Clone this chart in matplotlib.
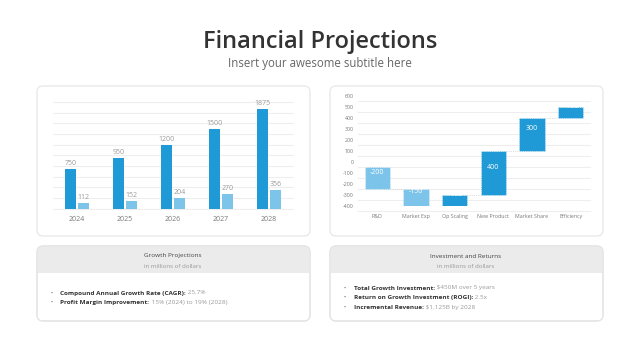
import matplotlib.pyplot as plt
from matplotlib.patches import FancyBboxPatch, Rectangle

plt.rcParams['font.family'] = ['Open Sans', 'DejaVu Sans']

# 左图：增长预测
years = ['2024', '2025', '2026', '2027', '2028']
revenue = [750, 950, 1200, 1500, 1875]
profit = [112, 152, 204, 270, 356]

# 右图：投资瀑布
steps = ['R&D', 'Market Exp', 'Op Scaling', 'New Product', 'Market Share', 'Efficiency']
changes = [-200, -150, 100, 400, 300, 100]
start = -50

dark = '#1f9ad6'
light = '#7dc4ea'
grid_c = '#eeeeee'
label_c = '#9a9a9a'

W, H = 640, 360
fig = plt.figure(figsize=(6.4, 3.6), dpi=100)
fig.patch.set_facecolor('white')

# 背景层（像素坐标）
bg = fig.add_axes([0, 0, 1, 1])
bg.set_xlim(0, W)
bg.set_ylim(H, 0)
bg.axis('off')
bg.set_zorder(-5)


def card(x0, y0, x1, y1, header=None):
    bg.add_patch(FancyBboxPatch((x0, y0), x1 - x0, y1 - y0,
                                boxstyle='round,pad=0,rounding_size=6',
                                fc='white', ec='#e4e4e4', lw=0.8))
    if header:
        bg.add_patch(FancyBboxPatch((x0, y0), x1 - x0, header - y0,
                                    boxstyle='round,pad=0,rounding_size=6',
                                    fc='#ebebeb', ec='none'))
        bg.add_patch(Rectangle((x0, y0 + 8), x1 - x0, header - y0 - 8,
                               fc='#ebebeb', ec='none'))
        bg.add_patch(FancyBboxPatch((x0, y0), x1 - x0, y1 - y0,
                                    boxstyle='round,pad=0,rounding_size=6',
                                    fc='none', ec='#e4e4e4', lw=0.8))


card(37, 86, 310, 236)
card(330, 86, 603, 236)
card(37, 246, 310, 321, header=273)
card(330, 246, 603, 321, header=273)

bg.text(320, 42, 'Financial Projections', ha='center', va='center',
        fontsize=17, color='#333333', fontweight='semibold')
bg.text(320, 63, 'Insert your awesome subtitle here', ha='center', va='center',
        fontsize=8.3, color='#666666')


def px_axes(x0, y0, x1, y1):
    return fig.add_axes([x0 / W, 1 - y1 / H, (x1 - x0) / W, (y1 - y0) / H])


# 左图
ax1 = px_axes(53, 102, 293, 208.7)
ax1.set_xlim(-0.5, 4.5)
ax1.set_ylim(0, 2000)
for g in range(0, 2001, 200):
    ax1.axhline(g, color=grid_c, lw=0.8, zorder=0, clip_on=False)
xs = list(range(len(years)))
w = 0.23
b1 = ax1.bar([x - 0.135 for x in xs], revenue, w, color=dark, zorder=2)
b2 = ax1.bar([x + 0.135 for x in xs], profit, w, color=light, zorder=2)
for bars, vals in ((b1, revenue), (b2, profit)):
    for r, v in zip(bars, vals):
        ax1.annotate(str(v), (r.get_x() + r.get_width() / 2, v), xytext=(0, 1.5),
                     textcoords='offset points', ha='center', va='bottom',
                     fontsize=5, color=label_c, annotation_clip=False)
ax1.set_xticks(xs)
ax1.set_xticklabels(years, fontsize=5, color='#777777')
ax1.set_yticks([])
ax1.tick_params(axis='x', length=0, pad=5.5)
for s in ax1.spines.values():
    s.set_visible(False)
ax1.patch.set_alpha(0)

# 右图
ax2 = px_axes(358, 95.7, 590, 205.7)
ax2.set_xlim(-0.5, 5.5)
ax2.set_ylim(-400, 600)
for g in range(-450, 551, 100):
    ax2.axhline(g, color=grid_c, lw=0.8, zorder=0, clip_on=False)
level = start
for i, c in enumerate(changes):
    top = level + c
    color = dark if c > 0 else light
    ax2.bar(i, c, 0.66, bottom=level, color=color, zorder=2,
            edgecolor='white', linestyle=':', linewidth=0.5)
    mid = level + c / 2
    txt = f'+{c}' if c == 100 else str(c)
    ax2.annotate(txt, (i, mid), xytext=(0, 4), textcoords='offset points',
                 ha='center', va='center', fontsize=5, color='white', zorder=3)
    if i < len(changes) - 1:
        ax2.plot([i + 0.33, i + 0.67], [top, top], color='#cccccc', lw=0.6,
                 ls=':', zorder=1)
    level = top
ax2.set_xticks(range(len(steps)))
ax2.set_xticklabels(steps, fontsize=3.8, color='#777777')
ax2.set_yticks(range(-400, 601, 100))
ax2.set_yticklabels([str(v) for v in range(-400, 601, 100)], fontsize=3.8, color='#777777')
ax2.tick_params(length=0)
ax2.tick_params(axis='y', pad=3)
ax2.tick_params(axis='x', pad=6)
for s in ax2.spines.values():
    s.set_visible(False)
ax2.patch.set_alpha(0)

# 底部卡片
panels = [
    (173, 'Growth Projections', [
        ('Compound Annual Growth Rate (CAGR):', ' 25.7%'),
        ('Profit Margin Improvement:', ' 15% (2024) to 19% (2028)'),
    ], 293),
    (466, 'Investment and Returns', [
        ('Total Growth Investment:', ' $450M over 5 years'),
        ('Return on Growth Investment (ROGI):', ' 2.5x'),
        ('Incremental Revenue:', ' $1.125B by 2028'),
    ], 288),
]
fig.canvas.draw()
renderer = fig.canvas.get_renderer()
for cx, head, items, y0 in panels:
    bg.text(cx, 256, head, ha='center', va='center', fontsize=4.6, color='#444444')
    bg.text(cx, 266.5, 'in millions of dollars', ha='center', va='center',
            fontsize=4.4, color='#999999')
    left = cx - 136 + 23.5
    for k, (bold, rest) in enumerate(items):
        y = y0 + k * 9.7
        bg.text(left - 8.5, y, '•', ha='center', va='center', fontsize=4, color='#666666')
        t = bg.text(left, y, bold, ha='left', va='center', fontsize=4.6,
                    color='#333333', fontweight='bold')
        bb = t.get_window_extent(renderer=renderer)
        xe = bg.transData.inverted().transform((bb.x1, bb.y0))[0]
        bg.text(xe, y, rest, ha='left', va='center', fontsize=4.6, color='#999999')

fig.savefig('out.png', dpi=100)
